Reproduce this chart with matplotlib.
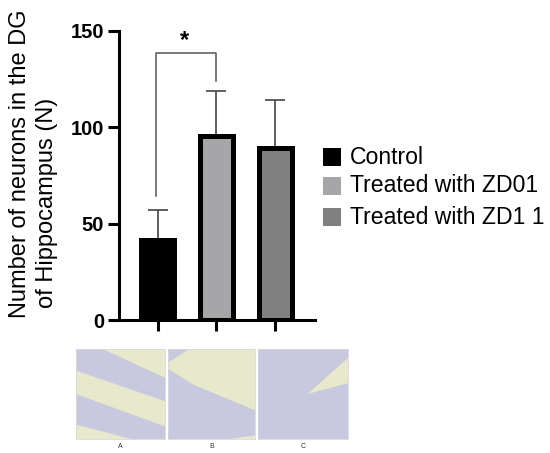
import matplotlib
matplotlib.use("Agg")
import matplotlib.pyplot as plt
from matplotlib.patches import Rectangle, Polygon

plt.rcParams['font.family'] = ['Liberation Sans', 'DejaVu Sans']

# ---- data ----
groups = ["Control", "Treated with ZD01", "Treated with ZD1 1"]
means = [41.5, 95.5, 89.3]
err_upper = [15.5, 23.4, 24.8]
bar_colors = ["#000000", "#a6a6a9", "#808080"]
yticks = [0, 50, 100, 150]
sig_pair = (0, 1)
sig_label = "*"
ylabel_lines = ["Number of neurons in the DG", "of Hippocampus (N)"]
panel_labels = ["A", "B", "C"]

fig = plt.figure(figsize=(5.5, 4.53), dpi=100)
ax = fig.add_axes([0.2169, 0.2925, 0.3558, 0.6397])

x = list(range(len(groups)))
ax.bar(x, means, width=0.562, color=bar_colors, edgecolor="black",
       linewidth=3.6, zorder=3)
ax.errorbar(x, means, yerr=[[0] * len(means), err_upper], fmt="none",
            ecolor="#444444", elinewidth=1.2, capsize=7.2, capthick=1.2, zorder=2)

# significance bracket
i, j = sig_pair
top = 138.4
ax.plot([i - 0.03, i - 0.03, j, j], [64.4, top, top, 123.9],
        color="#555555", lw=1.1, clip_on=False, zorder=4)
ax.text((i + j) / 2 - 0.05, top + 0.5, sig_label, ha="center", va="bottom",
        fontsize=17, fontweight="bold", clip_on=False)

ax.set_xlim(-0.654, 2.68)
ax.set_ylim(0, 150)
ax.set_yticks(yticks)
ax.set_yticklabels([str(t) for t in yticks], fontsize=14.5, fontweight="bold")
ax.set_xticks(x)
ax.set_xticklabels([])
for s in ["top", "right"]:
    ax.spines[s].set_visible(False)
for s in ["left", "bottom"]:
    ax.spines[s].set_linewidth(2.2)
ax.tick_params(axis="both", width=2.2, length=8, pad=3)

# y label, two lines
for txt, (lx, ly) in zip(ylabel_lines, [(26, 318), (53, 308)]):
    fig.text(lx / 550, 1 - ly / 453, txt, rotation=90, rotation_mode="anchor",
             ha="left", va="baseline", fontsize=17)

# legend (manual)
leg_y = [157, 186, 217]
for c, lab, yy in zip(bar_colors, groups, leg_y):
    fig.patches.append(Rectangle((323 / 550, 1 - (yy + 9) / 453), 18 / 550, 18 / 453,
                                 transform=fig.transFigure, facecolor=c,
                                 edgecolor="none"))
    fig.text(350 / 550, 1 - yy / 453, lab, fontsize=16.6, va="center", ha="left")

# micrograph panels (schematic)
bg = "#e8e9cc"
purple = "#c3c3e2"
panels = [
    (76, 89, [[(0, 1.0), (0.3, 1.0), (1.0, 0.68), (1.0, 0.42), (0, 0.76)],
              [(0, 0.5), (1.0, 0.14), (1.0, 0.0), (0.62, 0.0), (0, 0.16)]]),
    (168, 87, [[(0, 0.78), (0.3, 0.6), (1.0, 0.32), (1.0, 0.04), (0.7, 0.0), (0, 0.0)],
               [(0, 1.0), (0.25, 1.0), (0, 0.85)]]),
    (258, 90, [[(0, 1.0), (1.0, 1.0), (1.0, 0.9), (0.55, 0.5), (1.0, 0.62), (1.0, 0.0), (0, 0.0)]]),
]
for (px, pw, polys), lab in zip(panels, panel_labels):
    pax = fig.add_axes([px / 550, 1 - 439 / 453, pw / 550, 90 / 453])
    pax.set_xlim(0, 1)
    pax.set_ylim(0, 1)
    pax.set_facecolor(bg)
    for poly in polys:
        pax.add_patch(Polygon(poly, closed=True, facecolor=purple,
                              edgecolor="none", alpha=0.85))
    pax.set_xticks([])
    pax.set_yticks([])
    for s in pax.spines.values():
        s.set_edgecolor("#d8d8d8")
        s.set_linewidth(0.6)
    fig.text((px + pw / 2) / 550, 1 - 447 / 453, lab, fontsize=5,
             ha="center", va="center", color="#333333")

fig.savefig("out.png", dpi=100)
